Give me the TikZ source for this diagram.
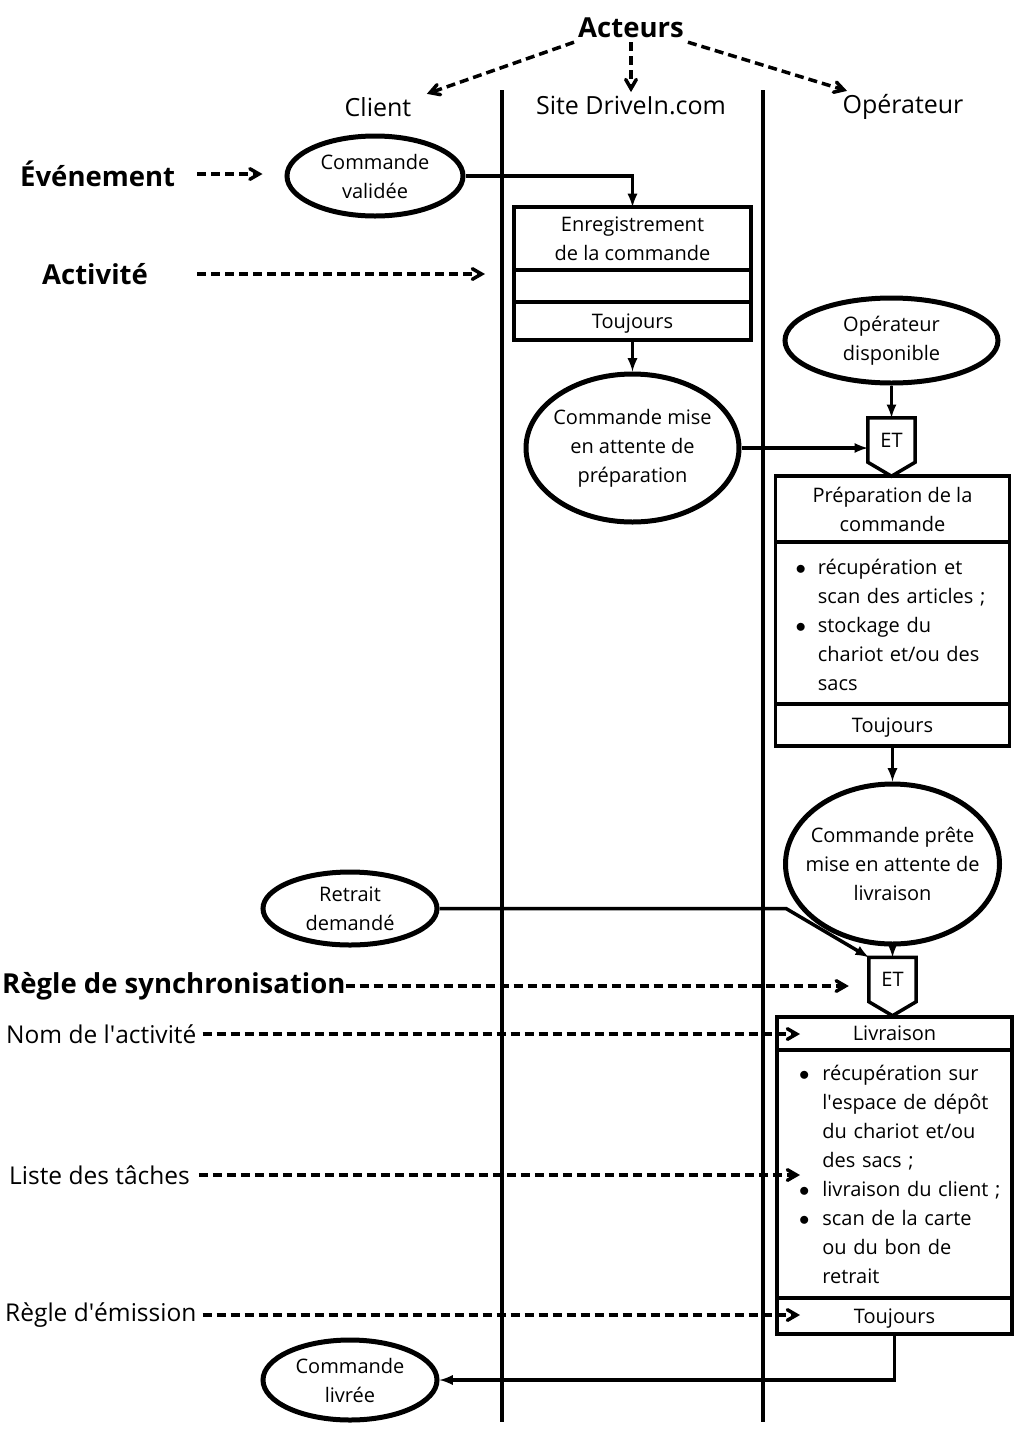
\documentclass[tikz,border=0pt]{standalone}
\usepackage{fontspec}
\setmainfont{Open Sans}
\usepackage{tikz}
\usetikzlibrary{shapes.geometric, arrows, positioning}

\tikzset{
  evenement/.style={ellipse, draw, line width=5pt, inner sep=0pt, align=center, font=\fontsize{20}{29}\selectfont},
  boite/.style={rectangle, draw, line width=3.5pt, inner sep=2pt, outer sep=0pt, align=center, font=\fontsize{20}{29}\selectfont},
  regle/.style={boite, text depth=0pt},
  porte/.style={minimum width=47pt, minimum height=44pt, inner sep=0pt, font=\fontsize{20}{24}\selectfont},
  titre/.style={font=\fontsize{27.5}{32}\selectfont\bfseries, inner sep=0pt},
  etiq/.style={font=\fontsize{24.5}{28}\selectfont, anchor=west, inner sep=0pt},
  acteur/.style={font=\fontsize{25}{30}\selectfont},
  fleche/.style={-latex, line width=3.5pt},
  pointille/.style={-angle 60, line width=3.5pt, dash pattern=on 9pt off 5pt},
  couloir/.style={line width=3.5pt}
}

\begin{document}
\begin{tikzpicture}[x=1pt, y=-1pt]
\useasboundingbox (0,0) rectangle (1024,1436);
\draw[couloir] (502,90) -- (502,1422);
\draw[couloir] (763,90) -- (763,1422);

\node[titre, inner sep=4pt] (acteurs) at (631,28) {Acteurs};
\node[acteur] (client) at (378,107) {Client};
\node[acteur] (site) at (631,105) {Site DriveIn.com};
\node[acteur] (oper) at (903,107) {Opérateur};
\draw[pointille] (acteurs.south west) -- ([xshift=12pt]client.north east);
\draw[pointille] (acteurs.south) -- (site.north);
\draw[pointille] (acteurs.south east) -- ([xshift=8pt]oper.north west);

\node[titre, anchor=west] (evt) at (20,174) {Événement};
\node[titre, anchor=west] (act) at (42,274) {Activité};
\node[titre, anchor=west] (regsync) at (2,986) {Règle de synchronisation};
\node[etiq] (nomact) at (6,1034) {Nom de l\textquotesingle activité};
\node[etiq] (listet) at (9,1175) {Liste des tâches};
\node[etiq] (regem) at (5,1315) {Règle d\textquotesingle émission};

\node[evenement, minimum width=176pt, minimum height=80pt] (cmdval) at (375,176) {Commande\\validée};
\node[evenement, minimum width=213pt, minimum height=148pt, inner xsep=-4pt] (attprep) at (632.5,448) {Commande mise\\en attente de\\préparation};
\node[evenement, minimum width=213pt, minimum height=85pt] (opdisp) at (891.5,340.5) {Opérateur\\disponible};
\node[evenement, minimum width=214pt, minimum height=160pt, inner xsep=-16pt] (cmdpret) at (892.5,864) {Commande prête\\mise en attente de\\livraison};
\node[evenement, minimum width=174pt, minimum height=73pt] (retrait) at (350,908.5) {Retrait\\demandé};
\node[evenement, minimum width=174pt, minimum height=80pt] (livree) at (350,1380) {Commande\\livrée};

\node[boite, minimum width=237pt, minimum height=63pt] (enr) at (632.5,238.5) {Enregistrement\\de la commande};
\node[boite, minimum width=237pt, minimum height=32pt, below=0pt of enr] (enrvide) {};
\node[regle, minimum width=237pt, minimum height=38pt, below=0pt of enrvide] (enrtj) {Toujours};

\node[porte] (et1) at (891.5,440) {ET};
\draw[line width=3.5pt] (et1.south west) -- (et1.north west) -- (et1.north east) -- (et1.south east) -- ([yshift=-14pt]et1.south) -- cycle;
\node[boite, minimum width=234pt, minimum height=66pt] (prep) at (892.5,509) {Préparation de la\\commande};
\node[boite, minimum width=234pt, minimum height=162pt, below=0pt of prep, text width=234pt, inner xsep=0pt, align=left] (preplist) {\vspace*{-8pt}\begin{tabular}{@{\hspace{20pt}}c@{\hspace{12pt}}l@{}}
$\bullet$ & récupération et\\
 & scan des articles ;\\
$\bullet$ & stockage du\\
 & chariot et/ou des\\
 & sacs
\end{tabular}};
\node[regle, minimum width=234pt, minimum height=42pt, below=0pt of preplist] (preptj) {Toujours};

\node[porte] (et2) at (892.5,979.5) {ET};
\draw[line width=3.5pt] (et2.south west) -- (et2.north west) -- (et2.north east) -- (et2.south east) -- ([yshift=-14pt]et2.south) -- cycle;
\node[regle, minimum width=235pt, minimum height=33pt] (livr) at (894.5,1033.5) {Livraison};
\node[boite, minimum width=235pt, minimum height=248pt, below=0pt of livr, text width=235pt, inner xsep=0pt, align=left] (livlist) {\vspace*{-4pt}\begin{tabular}{@{\hspace{22pt}}c@{\hspace{13pt}}l@{}}
$\bullet$ & récupération sur\\
 & l\textquotesingle espace de dépôt\\
 & du chariot et/ou\\
 & des sacs ;\\
$\bullet$ & livraison du client ;\\
$\bullet$ & scan de la carte\\
 & ou du bon de\\
 & retrait
\end{tabular}};
\node[regle, minimum width=235pt, minimum height=36pt, below=0pt of livlist] (livtj) {Toujours};

\draw[fleche] (cmdval.east) -| (enr.north);
\draw[fleche] (enrtj.south) -- (attprep.north);
\draw[fleche] (opdisp.south) -- (et1.north);
\draw[fleche] (attprep.east) -- (attprep.east -| et1.west);
\draw[fleche] (preptj.south) -- (cmdpret.north);
\draw[fleche] (cmdpret.south) -- (et2.north);
\coordinate (coude) at (786,908.5);
\draw[fleche] (retrait.east) -- (coude) -- (et2.north west);
\draw[fleche] (livtj.south) |- (livree.east);

\draw[pointille, shorten <=22pt, shorten >=22pt] (evt.east) -- (evt.east -| cmdval.west);
\draw[pointille, shorten <=49pt, shorten >=29pt] (act.east) -- (act.east -| enr.west);
\draw[pointille, shorten >=20pt] (regsync.east) -- (regsync.east -| et2.west);
\draw[pointille, shorten <=6pt, shorten >=-23pt] (nomact.east) -- (nomact.east -| livr.west);
\draw[pointille, shorten <=9pt, shorten >=-23pt] (listet.east) -- (listet.east -| livlist.west);
\draw[pointille, shorten <=6pt, shorten >=-23pt] (regem.east) -- (regem.east -| livtj.west);
\end{tikzpicture}
\end{document}
